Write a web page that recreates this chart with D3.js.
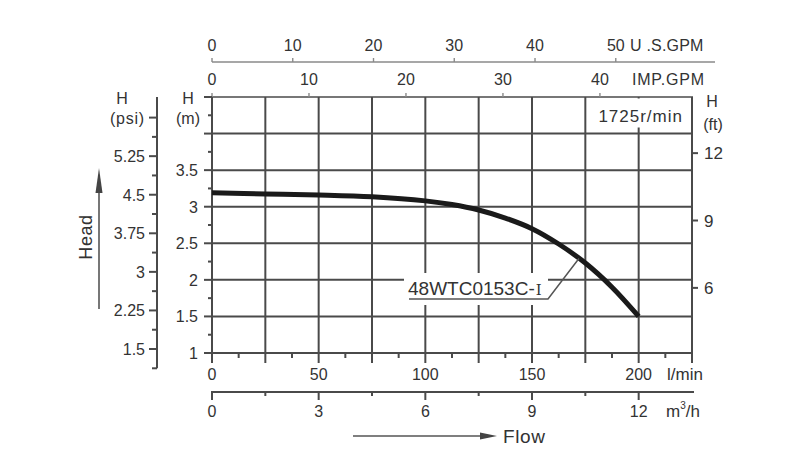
<!DOCTYPE html>
<html><head><meta charset="utf-8">
<script src="https://cdn.jsdelivr.net/npm/d3@7"></script>
<style>body{margin:0;background:#fff}svg{display:block}</style>
</head><body>
<svg id="c" width="800" height="473"></svg>
<script>
// ---- data ----
const flowLmin = [0, 25, 50, 75, 100, 112.5, 125, 137.5, 150, 162.5, 175, 187.5, 200];
const headM    = [3.19, 3.175, 3.16, 3.135, 3.08, 3.03, 2.955, 2.845, 2.70, 2.49, 2.23, 1.90, 1.50];
const modelName = "48WTC0153C-";
const modelSuffix = "Ⅰ";
const speedLabel = "1725r/min";
const lminTicks = [0, 50, 100, 150, 200];
const m3hTicks = [0, 3, 6, 9, 12];
const usgpmTicks = [0, 10, 20, 30, 40, 50];
const impgpmTicks = [0, 10, 20, 30, 40];
const mTicks = [1, 1.5, 2, 2.5, 3, 3.5];
const psiTicks = [1.5, 2.25, 3, 3.75, 4.5, 5.25];
const ftTicks = [6, 9, 12];
const labelFlow = 172;

// conversions
const L_PER_USG = 3.78541, L_PER_IMPG = 4.54609, LMIN_PER_M3H = 1000/60, M_PER_PSI = 0.70307;

const svg = d3.select("#c");
const FONT = "'Liberation Sans', Arial, sans-serif";
const TXT = "#333", GRID = "#4a4a4a";

const x = d3.scaleLinear().domain([0, 225]).range([212, 692]);
const y = d3.scaleLinear().domain([1, 4.5]).range([353, 97]);
const yPsi = v => y(v * M_PER_PSI);
const yFt = d3.scaleLinear().domain([3.1, 14.5]).range([353, 97]);

const g = svg.append("g");

// grid
g.selectAll(".vg").data(d3.range(0, 226, 25)).join("line")
  .attr("x1", d => x(d)).attr("x2", d => x(d)).attr("y1", y(1)).attr("y2", y(4.5))
  .attr("stroke", GRID).attr("stroke-width", 2);
g.selectAll(".hg").data(d3.range(1, 4.51, 0.5)).join("line")
  .attr("x1", x(0)-1).attr("x2", x(225)+1).attr("y1", d => y(d)).attr("y2", d => y(d))
  .attr("stroke", GRID).attr("stroke-width", d => d === 4.5 ? 1.6 : 2);

// speed label with white background
const sp = g.append("text").attr("x", x(225) - 9).attr("y", 122).attr("text-anchor", "end")
  .attr("font-family", FONT).attr("font-size", 17).attr("letter-spacing", 1).attr("fill", TXT).text(speedLabel);
const bb = sp.node().getBBox();
g.insert("rect", "text").attr("x", bb.x - 3).attr("y", y(4.5) + 1.5).attr("width", bb.width + 5)
  .attr("height", bb.y + bb.height - y(4.5)).attr("fill", "#fff");

// curve
const line = d3.line().x((d, i) => x(flowLmin[i])).y(d => y(d)).curve(d3.curveCatmullRom.alpha(0.5));
g.append("path").attr("d", line(headM)).attr("fill", "none").attr("stroke", "#1a1a1a").attr("stroke-width", 5);

// annotation (white box behind label)
g.append("rect").attr("x", 404).attr("y", 273).attr("width", 144).attr("height", 32).attr("fill", "#fff");
const interp = d3.scaleLinear().domain(flowLmin).range(headM);
g.append("polyline").attr("points", [[409, 299], [548, 299], [x(labelFlow), y(interp(labelFlow))]].join(" "))
  .attr("fill", "none").attr("stroke", "#555").attr("stroke-width", 1.5);
const mt = g.append("text").attr("x", 408).attr("y", 295).attr("font-family", FONT).attr("font-size", 19).attr("fill", TXT);
mt.append("tspan").text(modelName);
mt.append("tspan").attr("font-family", "'DejaVu Serif', 'Liberation Serif', serif").attr("font-size", 15).attr("dx", 1).text(modelSuffix);

function txt(sel, xx, yy, s, opts = {}) {
  return sel.append("text").attr("x", xx).attr("y", yy).attr("font-family", FONT)
    .attr("font-size", opts.size || 16).attr("text-anchor", opts.anchor || "middle")
    .attr("fill", TXT).attr("letter-spacing", opts.ls || 0).text(s);
}

// l/min axis (bottom)
g.selectAll(".lt").data(d3.range(0, 226, 12.5)).join("line")
  .attr("x1", d => x(d)).attr("x2", d => x(d)).attr("y1", y(1)).attr("y2", d => y(1) + (d % 25 === 0 ? 10 : 5))
  .attr("stroke", GRID).attr("stroke-width", 2);
lminTicks.forEach(v => txt(g, x(v), 380, v));
txt(g, 667, 380, "l/min", {anchor: "start", size: 17});

// m3/h axis
const yM3 = 392;
g.append("line").attr("x1", x(0) - 1).attr("x2", x(225) + 2).attr("y1", yM3).attr("y2", yM3).attr("stroke", GRID).attr("stroke-width", 2);
g.selectAll(".mt").data(d3.range(0, 12.1, 1.5)).join("line")
  .attr("x1", d => x(d * LMIN_PER_M3H)).attr("x2", d => x(d * LMIN_PER_M3H))
  .attr("y1", yM3).attr("y2", d => yM3 + (d % 3 === 0 ? 8 : 4)).attr("stroke", GRID).attr("stroke-width", 2);
m3hTicks.forEach(v => txt(g, x(v * LMIN_PER_M3H), 417, v));
const mu = txt(g, 666, 417, "m", {anchor: "start", size: 17});
mu.append("tspan").attr("font-size", 10).attr("dy", -8).text("3");
mu.append("tspan").attr("dy", 8).text("/h");

// Flow arrow
g.append("line").attr("x1", 353).attr("x2", 484).attr("y1", 436).attr("y2", 436).attr("stroke", "#555").attr("stroke-width", 1.6);
g.append("polygon").attr("points", "480,432.5 497,436 480,439.5").attr("fill", "#444");
txt(g, 503, 443, "Flow", {anchor: "start", size: 19, ls: 0.6});

// US GPM axis
const yUS = 62;
g.append("line").attr("x1", x(0)).attr("x2", 715).attr("y1", yUS).attr("y2", yUS).attr("stroke", "#8a8a8a").attr("stroke-width", 1.4);
g.selectAll(".ut").data(usgpmTicks).join("line")
  .attr("x1", d => x(d * L_PER_USG)).attr("x2", d => x(d * L_PER_USG)).attr("y1", yUS).attr("y2", yUS - 4)
  .attr("stroke", "#8a8a8a").attr("stroke-width", 1.4);
usgpmTicks.forEach(v => txt(g, x(v * L_PER_USG), 51, v));
txt(g, 630, 51, "U .S.GPM", {anchor: "start", size: 16, ls: 0.2});

// IMP GPM axis on top border
g.selectAll(".it").data(impgpmTicks).join("line")
  .attr("x1", d => x(d * L_PER_IMPG)).attr("x2", d => x(d * L_PER_IMPG)).attr("y1", y(4.5)).attr("y2", y(4.5) - 4)
  .attr("stroke", "#8a8a8a").attr("stroke-width", 1.4);
impgpmTicks.forEach(v => txt(g, x(v * L_PER_IMPG), 85, v));
txt(g, 632, 85, "IMP.GPM", {anchor: "start", size: 16, ls: 0.8});

// m axis (left)
g.selectAll(".mt2").data(d3.range(1, 4.51, 0.25)).join("line")
  .attr("x1", x(0)).attr("x2", d => x(0) - ((d * 2) % 1 === 0 ? 8 : 4)).attr("y1", d => y(d)).attr("y2", d => y(d))
  .attr("stroke", GRID).attr("stroke-width", 2);
mTicks.forEach(v => txt(g, 198, y(v) + 6, v, {anchor: "end"}));
txt(g, 188, 104, "H", {size: 16});
txt(g, 188, 124, "(m)", {size: 16});

// psi axis
const xPsi = 157;
g.append("line").attr("x1", xPsi).attr("x2", xPsi).attr("y1", y(4.5)).attr("y2", yPsi(1.125)).attr("stroke", GRID).attr("stroke-width", 2);
g.selectAll(".pt").data(d3.range(1.125, 6.01, 0.375)).join("line")
  .attr("x1", xPsi).attr("x2", d => xPsi - ((d / 0.75) % 1 === 0 ? 8 : 5)).attr("y1", d => yPsi(d)).attr("y2", d => yPsi(d))
  .attr("stroke", GRID).attr("stroke-width", 2);
psiTicks.forEach(v => txt(g, 145, yPsi(v) + 6, v, {anchor: "end"}));
txt(g, 145, yPsi(6) + 6, "(psi)", {anchor: "end", ls: 0.8});
txt(g, 122, 104, "H", {size: 16});

// Head label + arrow
txt(g, 0, 0, "Head", {size: 18, ls: 0.6}).attr("transform", "translate(92,237) rotate(-90)");
g.append("line").attr("x1", 99).attr("x2", 99).attr("y1", 309).attr("y2", 188).attr("stroke", "#555").attr("stroke-width", 1.6);
g.append("polygon").attr("points", "95.5,193 99,168 102.5,193").attr("fill", "#444");

// ft axis (right)
g.selectAll(".ft").data(ftTicks).join("line")
  .attr("x1", x(225)).attr("x2", x(225) + 6).attr("y1", d => yFt(d)).attr("y2", d => yFt(d))
  .attr("stroke", GRID).attr("stroke-width", 2);
ftTicks.forEach(v => txt(g, 704, yFt(v) + 6, v, {anchor: "start", size: 17}));
txt(g, 712, 107, "H", {size: 16});
txt(g, 713, 130, "(ft)", {size: 16});
</script>
</body></html>
